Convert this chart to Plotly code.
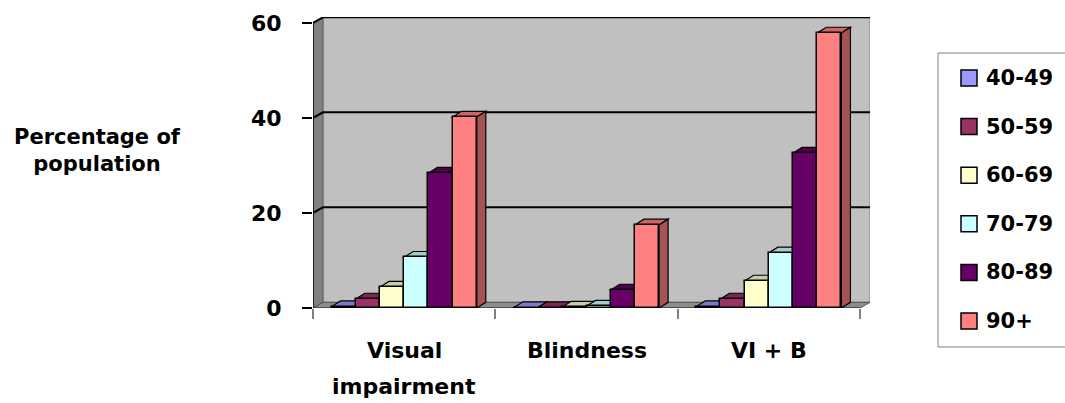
import plotly.graph_objects as go

# Prevalence (% of population) by age group for each outcome
categories = ["Visual\nimpairment", "Blindness", "VI + B"]
age_groups = ["40-49", "50-59", "60-69", "70-79", "80-89", "90+"]
pct_40_49 = [0.3, 0.1, 0.3]
pct_50_59 = [1.9, 0.1, 1.9]
pct_60_69 = [4.4, 0.2, 5.7]
pct_70_79 = [10.7, 0.4, 11.6]
pct_80_89 = [28.4, 3.8, 32.6]
pct_90_plus = [40.2, 17.5, 57.9]
y_ticks = [0, 20, 40, 60]

series = [pct_40_49, pct_50_59, pct_60_69, pct_70_79, pct_80_89, pct_90_plus]
colors = ["#9999FF", "#993366", "#FFFFCC", "#CCFFFF", "#660066", "#FF8080"]

W, H = 1065, 403
L, R, T, B = 313, 195, 17, 95
plot_w = W - L - R
plot_h = H - T - B

# axis ranges: categories sit at 0,1,2; the back wall is pushed right/up for depth
x_unit = 182.33
wall_dx = 10 / x_unit
bar_dx = 9 / x_unit
depth_dy = 1.2
y_max = 60
x_range = [-0.5, 2.5 + wall_dx]
y_range = [0, plot_h / 4.75]

bar_w = 24.2 / x_unit
group_w = bar_w * len(age_groups)

FONT = "DejaVu Sans"


def shade(hex_color, f):
    h = hex_color.lstrip("#")
    r, g, b = (int(h[i:i + 2], 16) for i in (0, 2, 4))
    return "#%02X%02X%02X" % (int(r * f), int(g * f), int(b * f))


def px_to_paper_x(px):
    return (px - L) / plot_w


def px_to_paper_y(py):
    return (T + plot_h - py) / plot_h


fig = go.Figure()
shapes = []

# walls and floor
x_left, x_right = -0.5, 2.5
shapes.append(dict(type="rect", xref="x", yref="y", layer="below",
                   x0=x_left + wall_dx, x1=x_right + wall_dx,
                   y0=depth_dy, y1=y_max + depth_dy,
                   fillcolor="#C0C0C0", line=dict(color="#808080", width=1)))
shapes.append(dict(type="path", xref="x", yref="y", layer="below",
                   path=f"M{x_left},0 L{x_left},{y_max} L{x_left + wall_dx},{y_max + depth_dy} "
                        f"L{x_left + wall_dx},{depth_dy} Z",
                   fillcolor="#808080", line=dict(color="#606060", width=1)))
shapes.append(dict(type="path", xref="x", yref="y", layer="below",
                   path=f"M{x_left},0 L{x_right},0 L{x_right + wall_dx},{depth_dy} "
                        f"L{x_left + wall_dx},{depth_dy} Z",
                   fillcolor="#8C8C8C", line=dict(color="#505050", width=1)))
# gridlines on the back wall
for v in y_ticks[1:]:
    shapes.append(dict(type="path", xref="x", yref="y", layer="below",
                       path=f"M{x_left},{v} L{x_left + wall_dx},{v + depth_dy} "
                            f"L{x_right + wall_dx},{v + depth_dy}",
                       line=dict(color="black", width=2)))
# front value axis line and category axis line
shapes.append(dict(type="line", xref="x", yref="y", layer="below",
                   x0=x_left, x1=x_left, y0=0, y1=y_max,
                   line=dict(color="black", width=1.5)))
shapes.append(dict(type="line", xref="x", yref="y", layer="below",
                   x0=x_left, x1=x_right, y0=0, y1=0,
                   line=dict(color="#404040", width=1.5)))

# bars: front faces as bar traces, top and side faces as shapes behind them
for j in range(len(categories)):
    for i, (vals, col) in enumerate(zip(series, colors)):
        v = vals[j]
        x0 = j - group_w / 2 + i * bar_w
        x1 = x0 + bar_w
        shapes.append(dict(type="path", xref="x", yref="y", layer="below",
                           path=f"M{x0},{v} L{x1},{v} L{x1 + bar_dx},{v + depth_dy} "
                                f"L{x0 + bar_dx},{v + depth_dy} Z",
                           fillcolor=shade(col, 0.8), line=dict(color="black", width=1.2)))
        shapes.append(dict(type="path", xref="x", yref="y", layer="below",
                           path=f"M{x1},0 L{x1},{v} L{x1 + bar_dx},{v + depth_dy} "
                                f"L{x1 + bar_dx},{depth_dy} Z",
                           fillcolor=shade(col, 0.65), line=dict(color="black", width=1.2)))

for i, (name, vals, col) in enumerate(zip(age_groups, series, colors)):
    fig.add_trace(go.Bar(
        x=list(range(len(categories))), y=vals, name=name,
        width=bar_w, offset=-group_w / 2 + i * bar_w,
        marker=dict(color=col, line=dict(color="black", width=1.5)),
        showlegend=False,
    ))

annotations = []
# category labels
for j, cat in enumerate(categories):
    for k, line in enumerate(cat.split("\n")):
        annotations.append(dict(
            x=j, xref="x", y=px_to_paper_y(350 + 36 * k), yref="paper",
            text=line, showarrow=False, xanchor="center", yanchor="middle",
            font=dict(family=FONT, size=22, color="black", weight="bold"),
        ))

# value axis title
annotations.append(dict(
    x=px_to_paper_x(97), xref="paper", y=px_to_paper_y(150), yref="paper",
    text="Percentage of<br>population", showarrow=False,
    xanchor="center", yanchor="middle", align="center",
    font=dict(family=FONT, size=21, color="black", weight="bold"),
))

# legend box with swatches
leg_left, leg_top, leg_bottom = 938, 53, 347
shapes.append(dict(type="rect", xref="paper", yref="paper", layer="above",
                   x0=px_to_paper_x(leg_left), x1=px_to_paper_x(W + 5),
                   y0=px_to_paper_y(leg_bottom), y1=px_to_paper_y(leg_top),
                   line=dict(color="#808080", width=1), fillcolor="rgba(0,0,0,0)"))
for i, (name, col) in enumerate(zip(age_groups, colors)):
    cy = 78 + 48.6 * i
    shapes.append(dict(type="rect", xref="paper", yref="paper", layer="above",
                       x0=px_to_paper_x(961), x1=px_to_paper_x(977),
                       y0=px_to_paper_y(cy + 8), y1=px_to_paper_y(cy - 8),
                       fillcolor=col, line=dict(color="black", width=1.5)))
    annotations.append(dict(
        x=px_to_paper_x(984), xref="paper", y=px_to_paper_y(cy), yref="paper",
        text=name, showarrow=False, xanchor="left", yanchor="middle",
        font=dict(family=FONT, size=21, color="black", weight="bold"),
    ))

fig.update_layout(
    width=W, height=H,
    margin=dict(l=L, r=R, t=T, b=B, pad=0),
    paper_bgcolor="white", plot_bgcolor="white",
    barmode="overlay", bargap=0,
    showlegend=False,
    shapes=shapes, annotations=annotations,
    xaxis=dict(range=x_range, tickvals=[-0.5, 0.5, 1.5, 2.5], ticks="outside",
               ticklen=10, tickcolor="#808080", tickwidth=1.5,
               showticklabels=False, showgrid=False, zeroline=False, showline=False,
               fixedrange=True),
    yaxis=dict(range=y_range, tickvals=y_ticks, ticks="outside", ticklen=10,
               tickcolor="black", tickwidth=1.5, ticklabelstandoff=16,
               tickfont=dict(family=FONT, size=22, color="black", weight="bold"),
               showgrid=False, zeroline=False, showline=False, fixedrange=True),
)

fig.write_html("out.html")
